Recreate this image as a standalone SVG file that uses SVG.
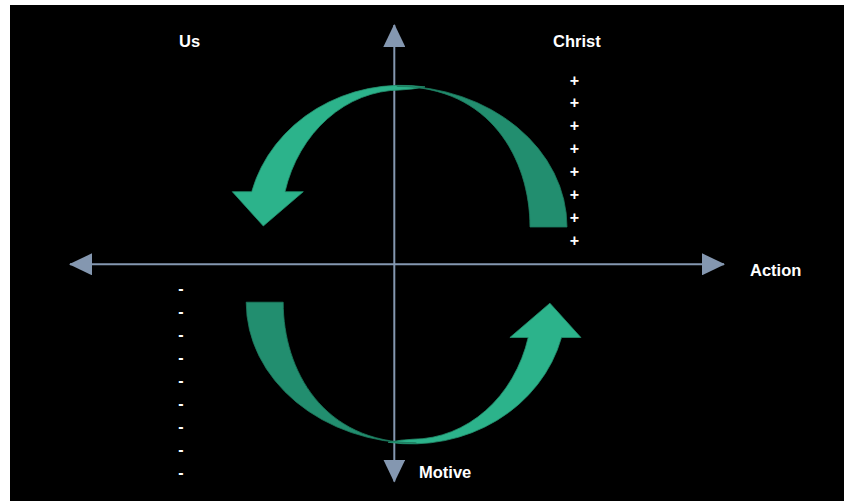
<svg xmlns="http://www.w3.org/2000/svg" width="844" height="501" viewBox="0 0 844 501">
  <style>
    .lbl { font-family: "Liberation Sans", Arial, sans-serif; font-weight: bold; font-size: 16.5px; fill: #ffffff; }
    .sym { font-family: "Liberation Sans", Arial, sans-serif; font-weight: bold; font-size: 16px; fill: #ffffff; text-anchor: middle; }
    .axis { stroke: #8497B0; stroke-width: 2; fill: none; }
    .light { fill: #2CB38B; stroke: #23916F; stroke-width: 0.8; }
    .dark { fill: #228E6F; stroke: #1D7C60; stroke-width: 0.8; }
  </style>
  <defs>
    <marker id="head" viewBox="0 0 23 22" refX="22" refY="11" markerWidth="23" markerHeight="22" markerUnits="userSpaceOnUse" orient="auto-start-reverse">
      <path d="M0,0 L23,11 L0,22 Z" fill="#8497B0"/>
    </marker>
  </defs>
  <rect x="0" y="0" width="844" height="501" fill="#ffffff"/>
  <rect x="10" y="5" width="834" height="496" fill="#000000"/>

  <g id="connectors">
    <line class="axis" x1="70" y1="264.3" x2="724" y2="264.3" marker-start="url(#head)" marker-end="url(#head)"/>
    <line class="axis" x1="394.3" y1="25" x2="394.3" y2="481.5" marker-start="url(#head)" marker-end="url(#head)"/>
  </g>

  <g id="top-cycle">
    <path class="light" d="M425,86.9 A155,142 0 0 0 251.7,191.7 L232.3,191.7 L263.3,226 L303.3,191.7 L285,191.7 A120,137 0 0 1 400,90 Q412,89.5 425,86.9 Z"/>
    <path class="dark" d="M396.7,86 A170,141 0 0 1 567,227 L530,227 C530,159 490,86.5 398,86.5 Z"/>
  </g>

  <g id="bottom-cycle" transform="rotate(180 406.6 264.6)">
    <path class="light" d="M425,86.9 A155,142 0 0 0 251.7,191.7 L232.3,191.7 L263.3,226 L303.3,191.7 L285,191.7 A120,137 0 0 1 400,90 Q412,89.5 425,86.9 Z"/>
    <path class="dark" d="M396.7,86 A170,141 0 0 1 567,227 L530,227 C530,159 490,86.5 398,86.5 Z"/>
  </g>

  <g id="label-us"><text class="lbl" x="179" y="47">Us</text></g>
  <g id="label-christ"><text class="lbl" x="553" y="47">Christ</text></g>
  <g id="label-action"><text class="lbl" x="750" y="276">Action</text></g>
  <g id="label-motive"><text class="lbl" x="419" y="478">Motive</text></g>

  <g id="plus-signs">
    <text class="sym" x="574.5" y="85.5">+</text>
    <text class="sym" x="574.5" y="108.3">+</text>
    <text class="sym" x="574.5" y="131.2">+</text>
    <text class="sym" x="574.5" y="154">+</text>
    <text class="sym" x="574.5" y="176.8">+</text>
    <text class="sym" x="574.5" y="199.7">+</text>
    <text class="sym" x="574.5" y="222.5">+</text>
    <text class="sym" x="574.5" y="245.5">+</text>
  </g>
  <g id="minus-signs">
    <text class="sym" x="181" y="294">-</text>
    <text class="sym" x="181" y="317">-</text>
    <text class="sym" x="181" y="340">-</text>
    <text class="sym" x="181" y="363">-</text>
    <text class="sym" x="181" y="386">-</text>
    <text class="sym" x="181" y="409">-</text>
    <text class="sym" x="181" y="432">-</text>
    <text class="sym" x="181" y="455">-</text>
    <text class="sym" x="181" y="478">-</text>
  </g>
</svg>
